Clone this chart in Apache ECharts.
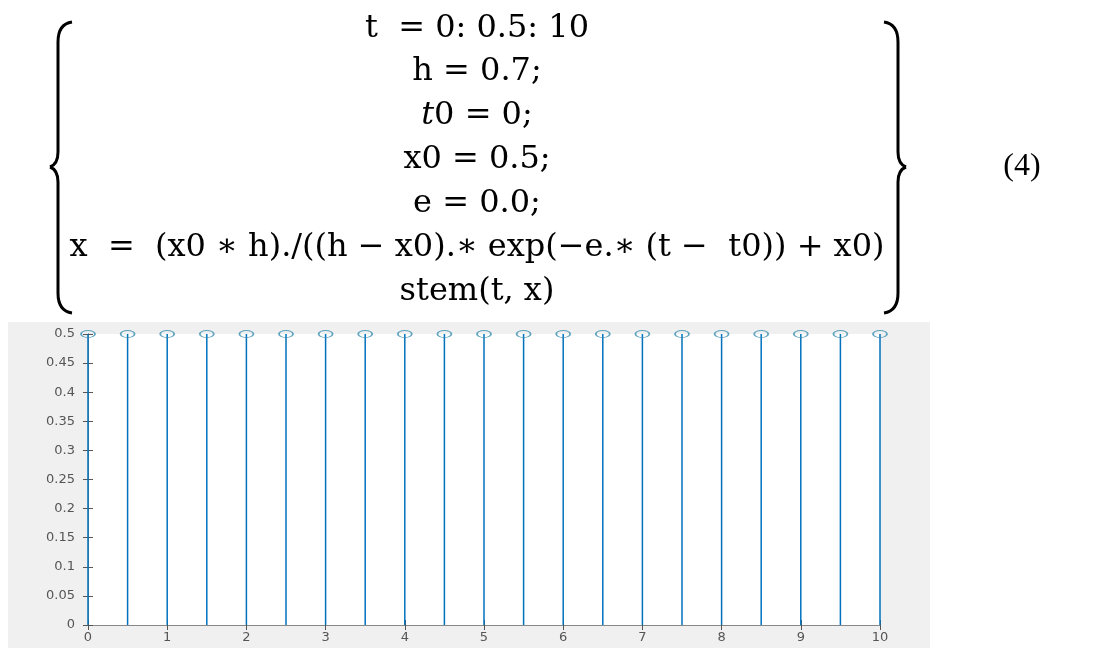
<!DOCTYPE html>
<html>
<head>
<meta charset="utf-8">
<script src="https://cdn.jsdelivr.net/npm/echarts@6/dist/echarts.min.js"></script>
<style>
  html, body { margin: 0; padding: 0; background: #fff; }
  #chart { width: 1116px; height: 648px; }
</style>
</head>
<body>
<div id="chart"></div>
<script>
// 采样时刻 t = 0:0.5:10
const tValues = [0, 0.5, 1, 1.5, 2, 2.5, 3, 3.5, 4, 4.5, 5, 5.5, 6, 6.5, 7, 7.5, 8, 8.5, 9, 9.5, 10]
// stem 的高度（e = 0 时恒为 x0）
const xValues = [0.5, 0.5, 0.5, 0.5, 0.5, 0.5, 0.5, 0.5, 0.5, 0.5, 0.5,
                 0.5, 0.5, 0.5, 0.5, 0.5, 0.5, 0.5, 0.5, 0.5, 0.5]
// 方程组各行文字（{i|..} 为斜体）
const equationLines = [
    't  = 0: 0.5: 10',
    'h = 0.7;',
    '{i|t}0 = 0;',
    'x0 = 0.5;',
    'e = 0.0;',
    'x  =  (x0 ∗ h)./((h − x0).∗ exp(−e.∗ (t −  t0)) + x0)',
    'stem(t, x)'
]
const equationNumber = '(4)'

const STEM_COLOR = '#0072BD'
const AXIS_COLOR = '#555'
const EQ_FONT = '"DejaVu Serif", serif'

const chart = echarts.init(document.getElementById('chart'), null, { renderer: 'canvas' })

const points = tValues.map((t, i) => [t, xValues[i]])

/**
 * 用线段和二次曲线拼出一个大括号
 * dir = 1 时尖角朝左，dir = -1 时朝右
 */
const makeBrace = (xv, dir) => {
    const tipX = xv - 8 * dir
    const endX = xv + 14 * dir
    const st = { fill: 'none', stroke: '#000', lineWidth: 3 }
    const q = (x1, y1, cx, cy, x2, y2) => ({
        type: 'bezierCurve', silent: true,
        shape: { x1, y1, cpx1: cx, cpy1: cy, x2, y2 }, style: st
    })
    const l = (y1, y2) => ({
        type: 'line', silent: true,
        shape: { x1: xv, y1, x2: xv, y2 }, style: st
    })
    return {
        type: 'group', silent: true,
        children: [
            q(endX, 22, xv, 24, xv, 42),
            l(42, 152),
            q(xv, 152, xv, 164, tipX, 167),
            q(tipX, 167, xv, 170, xv, 182),
            l(182, 293),
            q(xv, 293, xv, 311, endX, 313)
        ]
    }
}

// 方程文字与大括号
const eqY = [29, 72, 116, 160, 204, 248, 292]
const graphics = [
    {
        type: 'rect', z: -10, silent: true,
        shape: { x: 8, y: 322, width: 922, height: 326 },
        style: { fill: '#f0f0f0' }
    },
    makeBrace(58, 1),
    makeBrace(898, -1),
    {
        type: 'text', silent: true, x: 1022, y: 167,
        style: {
            text: equationNumber, align: 'center', verticalAlign: 'middle',
            font: '32px "Liberation Serif", serif', fill: '#000'
        }
    }
]
equationLines.forEach((line, i) => {
    graphics.push({
        type: 'text', silent: true, x: 477, y: eqY[i],
        style: {
            text: line, align: 'center', verticalAlign: 'middle',
            font: '32px ' + EQ_FONT, fill: '#000',
            rich: { i: { fontStyle: 'italic', fontSize: 32, fontFamily: EQ_FONT } }
        }
    })
})

const tickLabel = { color: '#555', fontSize: 13, fontFamily: '"DejaVu Sans", sans-serif' }

const option = {
    animation: false,
    backgroundColor: 'transparent',
    graphic: graphics,
    grid: {
        left: 88, right: 236, top: 334, bottom: 23,
        show: true, backgroundColor: '#fff', borderWidth: 0
    },
    xAxis: [
        {
            type: 'value', min: 0, max: 10, interval: 1, position: 'bottom',
            axisLine: { show: true, lineStyle: { color: AXIS_COLOR, width: 1 } },
            axisTick: { show: true, inside: true, length: 5, lineStyle: { color: AXIS_COLOR } },
            axisLabel: Object.assign({ margin: 6 }, tickLabel),
            splitLine: { show: false }
        },
        {
            type: 'value', min: 0, max: 10, interval: 1, position: 'top',
            axisLine: { show: true, lineStyle: { color: '#888', width: 1 } },
            axisTick: { show: true, inside: true, length: 5, lineStyle: { color: AXIS_COLOR } },
            axisLabel: { show: false },
            splitLine: { show: false }
        }
    ],
    yAxis: [
        {
            type: 'value', min: 0, max: 0.5, interval: 0.05, position: 'left',
            axisLine: { show: true, lineStyle: { color: AXIS_COLOR, width: 1 } },
            axisTick: { show: true, inside: true, length: 5, lineStyle: { color: AXIS_COLOR } },
            axisLabel: Object.assign({ margin: 13 }, tickLabel),
            splitLine: { show: false }
        },
        {
            type: 'value', min: 0, max: 0.5, interval: 0.05, position: 'right',
            axisLine: { show: true, lineStyle: { color: '#888', width: 1 } },
            axisTick: { show: true, inside: true, length: 5, lineStyle: { color: AXIS_COLOR } },
            axisLabel: { show: false },
            splitLine: { show: false }
        }
    ],
    series: [
        {
            // 竖线（stem）
            type: 'custom',
            xAxisIndex: 0, yAxisIndex: 0,
            data: points,
            renderItem: (params, api) => {
                const p0 = api.coord([api.value(0), 0])
                const p1 = api.coord([api.value(0), api.value(1)])
                return {
                    type: 'line',
                    shape: { x1: p0[0], y1: p0[1], x2: p1[0], y2: p1[1] },
                    style: { stroke: STEM_COLOR, lineWidth: 1.5 }
                }
            },
            z: 3
        },
        {
            // 顶端空心圆
            type: 'scatter',
            xAxisIndex: 0, yAxisIndex: 0,
            data: points,
            symbol: 'circle',
            symbolSize: [14, 7],
            itemStyle: { color: 'transparent', borderColor: '#3a8fb0', borderWidth: 1.3 },
            z: 4
        }
    ]
}

chart.setOption(option)
window.addEventListener('resize', () => chart.resize())
</script>
</body>
</html>
